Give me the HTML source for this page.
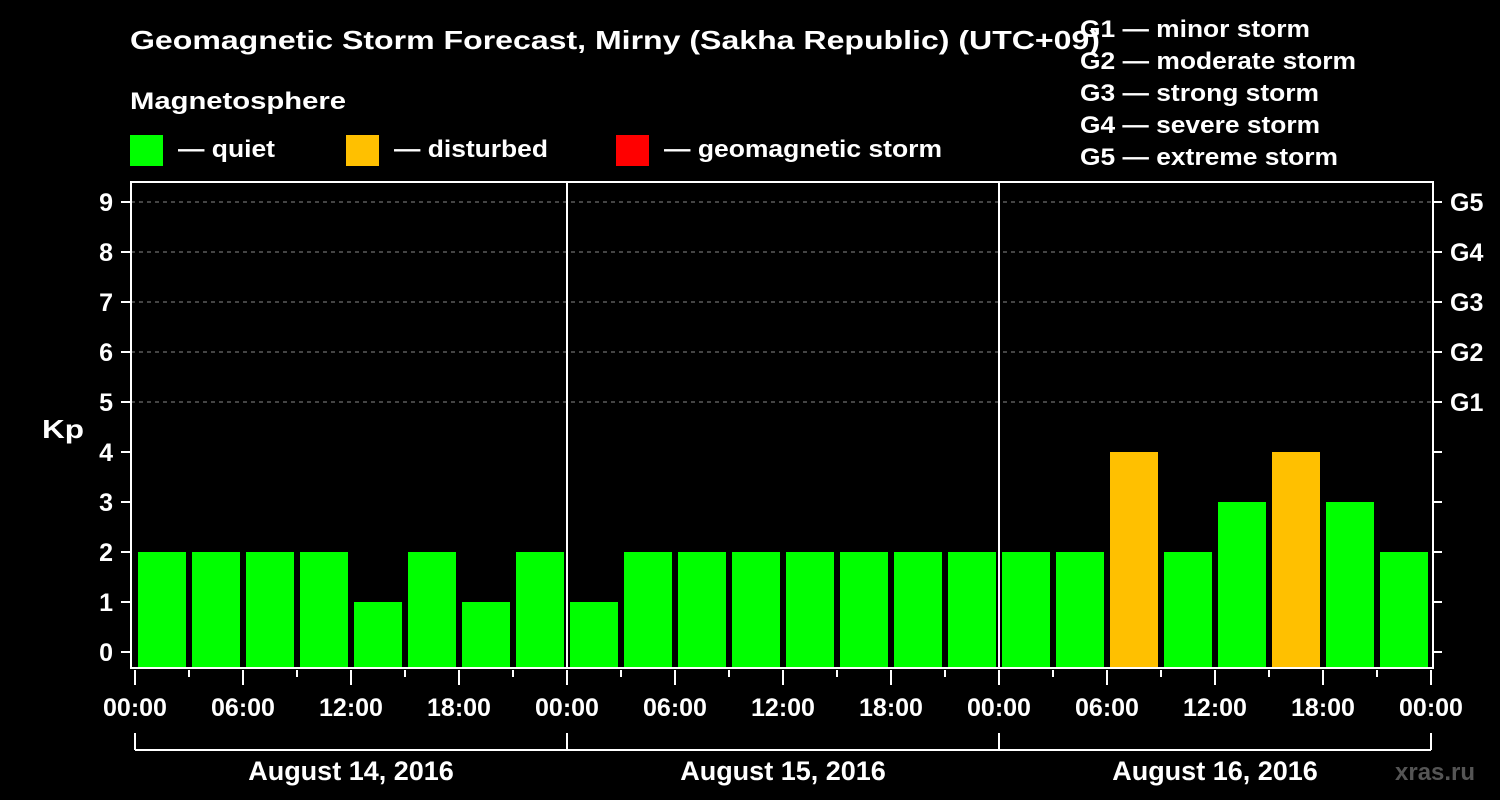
<!DOCTYPE html>
<html><head><meta charset="utf-8"><style>
body{margin:0;background:#000;}
svg{display:block;font-family:"Liberation Sans",Arial,sans-serif;font-weight:bold;}
svg text{font-family:"Liberation Sans",Arial,sans-serif;}
</style></head><body>
<svg id="c" width="1500" height="800" viewBox="0 0 1500 800">
<rect width="1500" height="800" fill="#000"/>
<text x="130" y="49" fill="#fff" font-size="26" textLength="970" lengthAdjust="spacingAndGlyphs">Geomagnetic Storm Forecast, Mirny (Sakha Republic) (UTC+09)</text>
<text x="130" y="109" fill="#fff" font-size="24" textLength="216" lengthAdjust="spacingAndGlyphs">Magnetosphere</text>
<g><rect x="130" y="135" width="33" height="31" fill="#00ff00"/><text x="178" y="157" fill="#fff" font-size="24" textLength="97" lengthAdjust="spacingAndGlyphs">— quiet</text></g>
<g><rect x="346" y="135" width="33" height="31" fill="#ffc000"/><text x="394" y="157" fill="#fff" font-size="24" textLength="154" lengthAdjust="spacingAndGlyphs">— disturbed</text></g>
<g><rect x="616" y="135" width="33" height="31" fill="#ff0000"/><text x="664" y="157" fill="#fff" font-size="24" textLength="278" lengthAdjust="spacingAndGlyphs">— geomagnetic storm</text></g>
<g fill="#fff" font-size="24">
<text x="1080" y="37" textLength="230" lengthAdjust="spacingAndGlyphs">G1 — minor storm</text>
<text x="1080" y="69" textLength="276" lengthAdjust="spacingAndGlyphs">G2 — moderate storm</text>
<text x="1080" y="101" textLength="239" lengthAdjust="spacingAndGlyphs">G3 — strong storm</text>
<text x="1080" y="133" textLength="240" lengthAdjust="spacingAndGlyphs">G4 — severe storm</text>
<text x="1080" y="165" textLength="258" lengthAdjust="spacingAndGlyphs">G5 — extreme storm</text>
</g>
<text x="42" y="438" fill="#fff" font-size="26" textLength="42" lengthAdjust="spacingAndGlyphs">Kp</text>
<text x="1395" y="780" fill="#555" font-size="24">xras.ru</text>
<g id="grid"></g><g id="bars"></g><g id="axes"></g>
</svg>
<script>
const kpValues = [2,2,2,2,1,2,1,2, 1,2,2,2,2,2,2,2, 2,2,4,2,3,4,3,2];
const dayLabels = ["August 14, 2016","August 15, 2016","August 16, 2016"];
const hourLabels = ["00:00","06:00","12:00","18:00"];
const yTicks = [0,1,2,3,4,5,6,7,8,9];
const gLabels = ["G1","G2","G3","G4","G5"];
(function(){
const NS="http://www.w3.org/2000/svg";
const X0=135, PXH=18, pLeft=131, pRight=1433, pTop=182, pBottom=668;
const xs=h=>X0+h*PXH, ys=v=>652-v*50;
function mk(t,a,p){const e=document.createElementNS(NS,t);for(const k in a)e.setAttribute(k,a[k]);p.appendChild(e);return e;}
const grid=document.getElementById('grid'),bars=document.getElementById('bars'),axes=document.getElementById('axes');
for(let v=5;v<=9;v++){const l=mk('line',{x1:pLeft,x2:pRight,y1:ys(v),y2:ys(v),stroke:'#888','stroke-dasharray':'4,4'},grid);

}
kpValues.forEach((v,i)=>{const c=v>=5?'#ff0000':(v>=4?'#ffc000':'#00ff00');
const r=mk('rect',{x:xs(i*3)+3,y:ys(v),width:3*PXH-6,height:pBottom-ys(v),fill:c},bars);

});
const fr=mk('rect',{x:pLeft,y:pTop,width:pRight-pLeft,height:pBottom-pTop,fill:'none',stroke:'#fff','stroke-width':2},axes);


for(let d=1;d<dayLabels.length;d++){mk('line',{x1:xs(d*24),x2:xs(d*24),y1:pTop,y2:pBottom,stroke:'#fff','stroke-width':2},axes);}
yTicks.forEach(v=>{mk('line',{x1:121,x2:pLeft,y1:ys(v),y2:ys(v),stroke:'#fff','stroke-width':2},axes);
mk('line',{x1:pRight,x2:1442,y1:ys(v),y2:ys(v),stroke:'#fff','stroke-width':2},axes);
const t=mk('text',{x:113,y:ys(v)+9,fill:'#fff','font-size':25,'text-anchor':'end'},axes);t.textContent=v;

});
gLabels.forEach((g,i)=>{const t=mk('text',{x:1450,y:ys(5+i)+9,fill:'#fff','font-size':25},axes);t.textContent=g;

});
const nH=dayLabels.length*24;
for(let h=0;h<=nH;h+=3){const maj=h%6===0;mk('line',{x1:xs(h),x2:xs(h),y1:670,y2:maj?685:677,stroke:'#fff','stroke-width':2},axes);
if(maj){const t=mk('text',{x:xs(h),y:716,fill:'#fff','font-size':25,'text-anchor':'middle'},axes);t.textContent=hourLabels[(h/6)%4];

}}
mk('line',{x1:xs(0),x2:xs(nH),y1:750,y2:750,stroke:'#fff','stroke-width':2},axes);
dayLabels.forEach((d,i)=>{mk('line',{x1:xs(i*24),x2:xs(i*24),y1:733,y2:750,stroke:'#fff','stroke-width':2},axes);
const t=mk('text',{x:xs(i*24+12),y:780,fill:'#fff','font-size':27,'text-anchor':'middle'},axes);t.textContent=d;

});
mk('line',{x1:xs(nH),x2:xs(nH),y1:733,y2:750,stroke:'#fff','stroke-width':2},axes);
})();
</script>
</body></html>
